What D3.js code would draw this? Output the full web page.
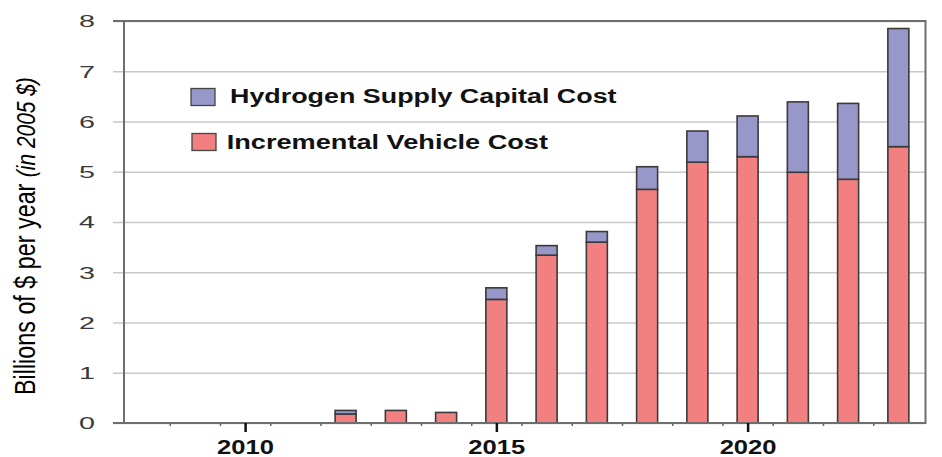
<!DOCTYPE html>
<html>
<head>
<meta charset="utf-8">
<script src="https://cdn.jsdelivr.net/npm/d3@7"></script>
<style>
    html, body { margin: 0; padding: 0; background: #fff; }
    svg { display: block; }
</style>
</head>
<body>
<svg id="chart"></svg>
<script>
/**
 * Chart data
 */
var years     = [2012, 2013, 2014, 2015, 2016, 2017, 2018, 2019, 2020, 2021, 2022, 2023];
var vehicle   = [0.18, 0.25, 0.21, 2.46, 3.34, 3.60, 4.65, 5.19, 5.30, 4.99, 4.85, 5.50];
var hydrogen  = [0.07, 0.00, 0.00, 0.23, 0.19, 0.21, 0.45, 0.62, 0.81, 1.40, 1.51, 2.35];
var seriesNames = ["Incremental Vehicle Cost", "Hydrogen Supply Capital Cost"];
var legendNames = ["Hydrogen Supply Capital Cost", "Incremental Vehicle Cost"];
var yTicks = [0, 1, 2, 3, 4, 5, 6, 7, 8];
var xTicks = [2010, 2015, 2020];
var xMinorTicks = [2008.5, 2009.5, 2010.5, 2011.5, 2012.5, 2013.5, 2014.5, 2015.5,
                   2016.5, 2017.5, 2018.5, 2019.5, 2020.5, 2021.5, 2022.5];

/**
 * Layout
 */
var W = 942, H = 457;
var plot = {left: 124, right: 925.5, top: 21, bottom: 423};
var FONT = "'Liberation Sans', Arial, Helvetica, sans-serif";
var colors = {"Incremental Vehicle Cost": "#f28080", "Hydrogen Supply Capital Cost": "#9797ca"};

var svg = d3.select("#chart").attr("width", W).attr("height", H);

var x = d3.scaleLinear()
    .domain([2007.59, 2023.54])
    .range([plot.left, plot.right]);

var y = d3.scaleLinear()
    .domain([0, 8])
    .range([plot.bottom, plot.top]);

// stretch a text horizontally so its width matches the target
function stretch(textSel, target) {
    var w = textSel.node().getComputedTextLength();
    return target / w;
}

// gridlines + y labels
var yAxis = svg.append("g")
    .attr("transform", "translate(" + plot.left + ",0)")
    .call(d3.axisLeft(y).tickValues(yTicks).tickSize(-(plot.right - plot.left)));
yAxis.select(".domain").remove();
yAxis.selectAll(".tick line")
    .attr("x1", -11)
    .attr("stroke", "#c8c8c8")
    .attr("stroke-width", 1.5);
yAxis.selectAll(".tick text")
    .attr("font-family", FONT)
    .attr("font-size", 16.5)
    .attr("fill", "#3a3a3a")
    .attr("text-anchor", "middle")
    .attr("x", 0)
    .attr("dy", "0.36em")
    .attr("transform", function(){
        var k = stretch(d3.select(this), 16);
        return "translate(-37,0) scale(" + k + ",1)";
    });

// stacked bars
var table = years.map(function(yr, i){
    var row = {year: yr};
    row[seriesNames[0]] = vehicle[i];
    row[seriesNames[1]] = hydrogen[i];
    return row;
});
var stacked = d3.stack().keys(seriesNames)(table);
var barW = 21;

svg.append("g")
    .selectAll("g")
    .data(stacked)
    .enter()
    .append("g")
    .attr("fill", function(s){ return colors[s.key]; })
    .selectAll("rect")
    .data(function(s){ return s.filter(function(d){ return d[1] - d[0] > 0; }); })
    .enter()
    .append("rect")
    .attr("x", function(d){ return x(d.data.year) - barW / 2; })
    .attr("y", function(d){ return y(d[1]); })
    .attr("width", barW)
    .attr("height", function(d){ return y(d[0]) - y(d[1]); })
    .attr("stroke", "#3a3a3a")
    .attr("stroke-width", 1.6);

// plot frame
svg.append("rect")
    .attr("x", plot.left)
    .attr("y", plot.top)
    .attr("width", plot.right - plot.left)
    .attr("height", plot.bottom - plot.top)
    .attr("fill", "none")
    .attr("stroke", "#6e6e6e")
    .attr("stroke-width", 2);
svg.append("line")
    .attr("x1", plot.left - 11).attr("x2", plot.left)
    .attr("y1", plot.top).attr("y2", plot.top)
    .attr("stroke", "#6e6e6e").attr("stroke-width", 2);
svg.append("line")
    .attr("x1", plot.left - 11).attr("x2", plot.left)
    .attr("y1", plot.bottom).attr("y2", plot.bottom)
    .attr("stroke", "#6e6e6e").attr("stroke-width", 2);

// minor x ticks
var xMinor = svg.append("g")
    .attr("transform", "translate(0," + plot.bottom + ")")
    .call(d3.axisBottom(x).tickValues(xMinorTicks).tickSize(3).tickFormat(""));
xMinor.select(".domain").remove();
xMinor.selectAll(".tick line").attr("stroke", "#666").attr("stroke-width", 1.5);

// major x ticks
var xAxis = svg.append("g")
    .attr("transform", "translate(0," + plot.bottom + ")")
    .call(d3.axisBottom(x).tickValues(xTicks).tickSize(9).tickFormat(d3.format("d")));
xAxis.select(".domain").remove();
xAxis.selectAll(".tick line").attr("stroke", "#111").attr("stroke-width", 2.5);
xAxis.selectAll(".tick text")
    .attr("font-family", FONT)
    .attr("font-size", 19.5)
    .attr("font-weight", "bold")
    .attr("fill", "#111")
    .attr("y", 0)
    .attr("dy", 0)
    .attr("transform", function(){
        var k = stretch(d3.select(this), 57);
        return "translate(0,31) scale(" + k + ",1)";
    });

// y axis title
var yTitle = svg.append("text")
    .attr("font-family", FONT)
    .attr("font-size", 29)
    .attr("fill", "#000");
yTitle.append("tspan").text("Billions of $ per year ");
yTitle.append("tspan").attr("font-style", "italic").attr("font-size", 26).text("(in 2005 $)");
var ky = 318 / yTitle.node().getComputedTextLength();
yTitle.attr("transform", "translate(35,395) rotate(-90) scale(" + ky + ",1)");

// legend
var legendPos = [
    {sx: 191, sy: 88.5, tx: 230, ty: 103.3, tw: 386.7},
    {sx: 192, sy: 133.5, tx: 226.7, ty: 149.3, tw: 321.6}
];
var legend = svg.append("g")
    .selectAll("g")
    .data(legendNames)
    .enter()
    .append("g");
legend.append("rect")
    .attr("x", function(d, i){ return legendPos[i].sx; })
    .attr("y", function(d, i){ return legendPos[i].sy; })
    .attr("width", 24)
    .attr("height", 17)
    .attr("fill", function(d){ return colors[d]; })
    .attr("stroke", "#444")
    .attr("stroke-width", 1.3);
legend.append("text")
    .attr("font-family", FONT)
    .attr("font-size", 19.5)
    .attr("font-weight", "bold")
    .attr("fill", "#111")
    .text(function(d){ return d; })
    .attr("transform", function(d, i){
        var p = legendPos[i];
        var k = stretch(d3.select(this), p.tw);
        return "translate(" + p.tx + "," + p.ty + ") scale(" + k + ",1)";
    });
</script>
</body>
</html>
